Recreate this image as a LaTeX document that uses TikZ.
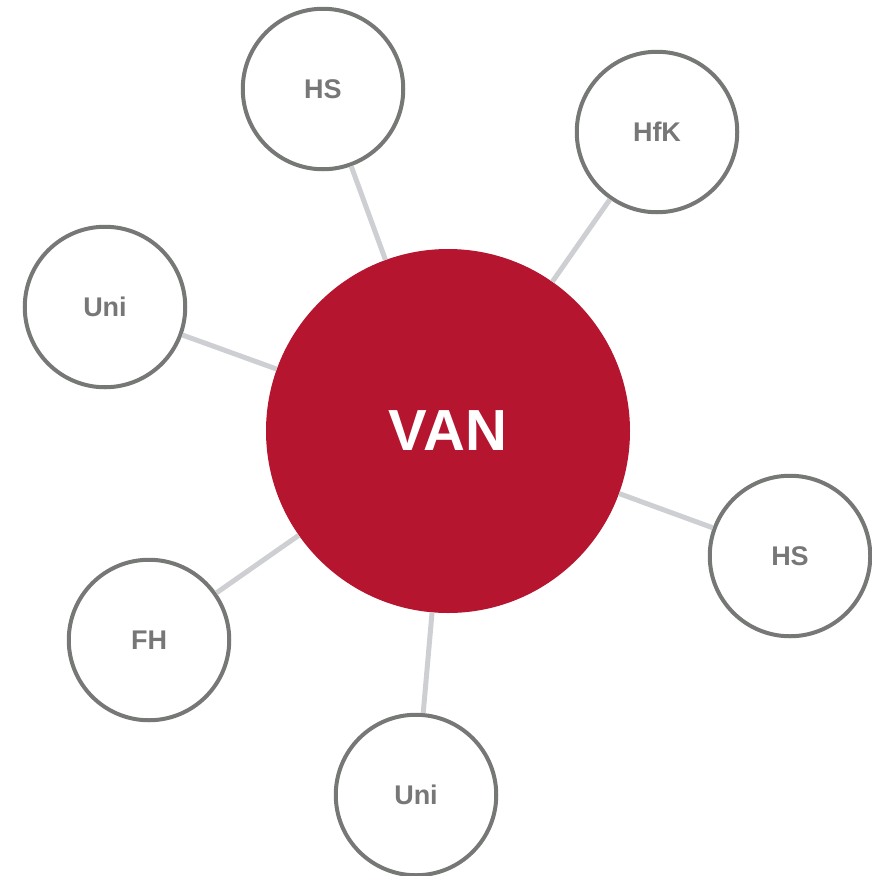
\documentclass[tikz,border=0pt]{standalone}
\usepackage{fontspec}
\setmainfont{Liberation Sans}
\definecolor{vanred}{HTML}{B5152F}
\definecolor{ringgray}{HTML}{767876}
\definecolor{linkgray}{HTML}{CDCFD2}
\definecolor{textgray}{HTML}{777777}
\begin{document}
\begin{tikzpicture}[x=1pt,y=-1pt,
  member/.style={circle,draw=ringgray,line width=4pt,fill=white,minimum size=160.5pt,inner sep=0pt,
    font=\fontsize{27}{31}\selectfont\bfseries,text=textgray},
  hub/.style={circle,fill=vanred,minimum size=364pt,inner sep=0pt,
    font=\fontsize{58}{66}\selectfont\bfseries,text=white},
  link/.style={draw=linkgray,line width=5pt}]
\useasboundingbox (0,0) rectangle (871,876);
\node[hub] (van) at (448,431) {VAN};
\node[member] (hs1) at (323,89) {HS};
\node[member] (hfk) at (657,132) {HfK};
\node[member] (uni1) at (105,307) {Uni};
\node[member] (hs2) at (790,556) {HS};
\node[member] (fh) at (149,640) {FH};
\node[member] (uni2) at (416,795) {Uni};
\foreach \n in {hs1,hfk,uni1,hs2,fh,uni2}{\path[link] (van) -- (\n);}
\end{tikzpicture}
\end{document}
